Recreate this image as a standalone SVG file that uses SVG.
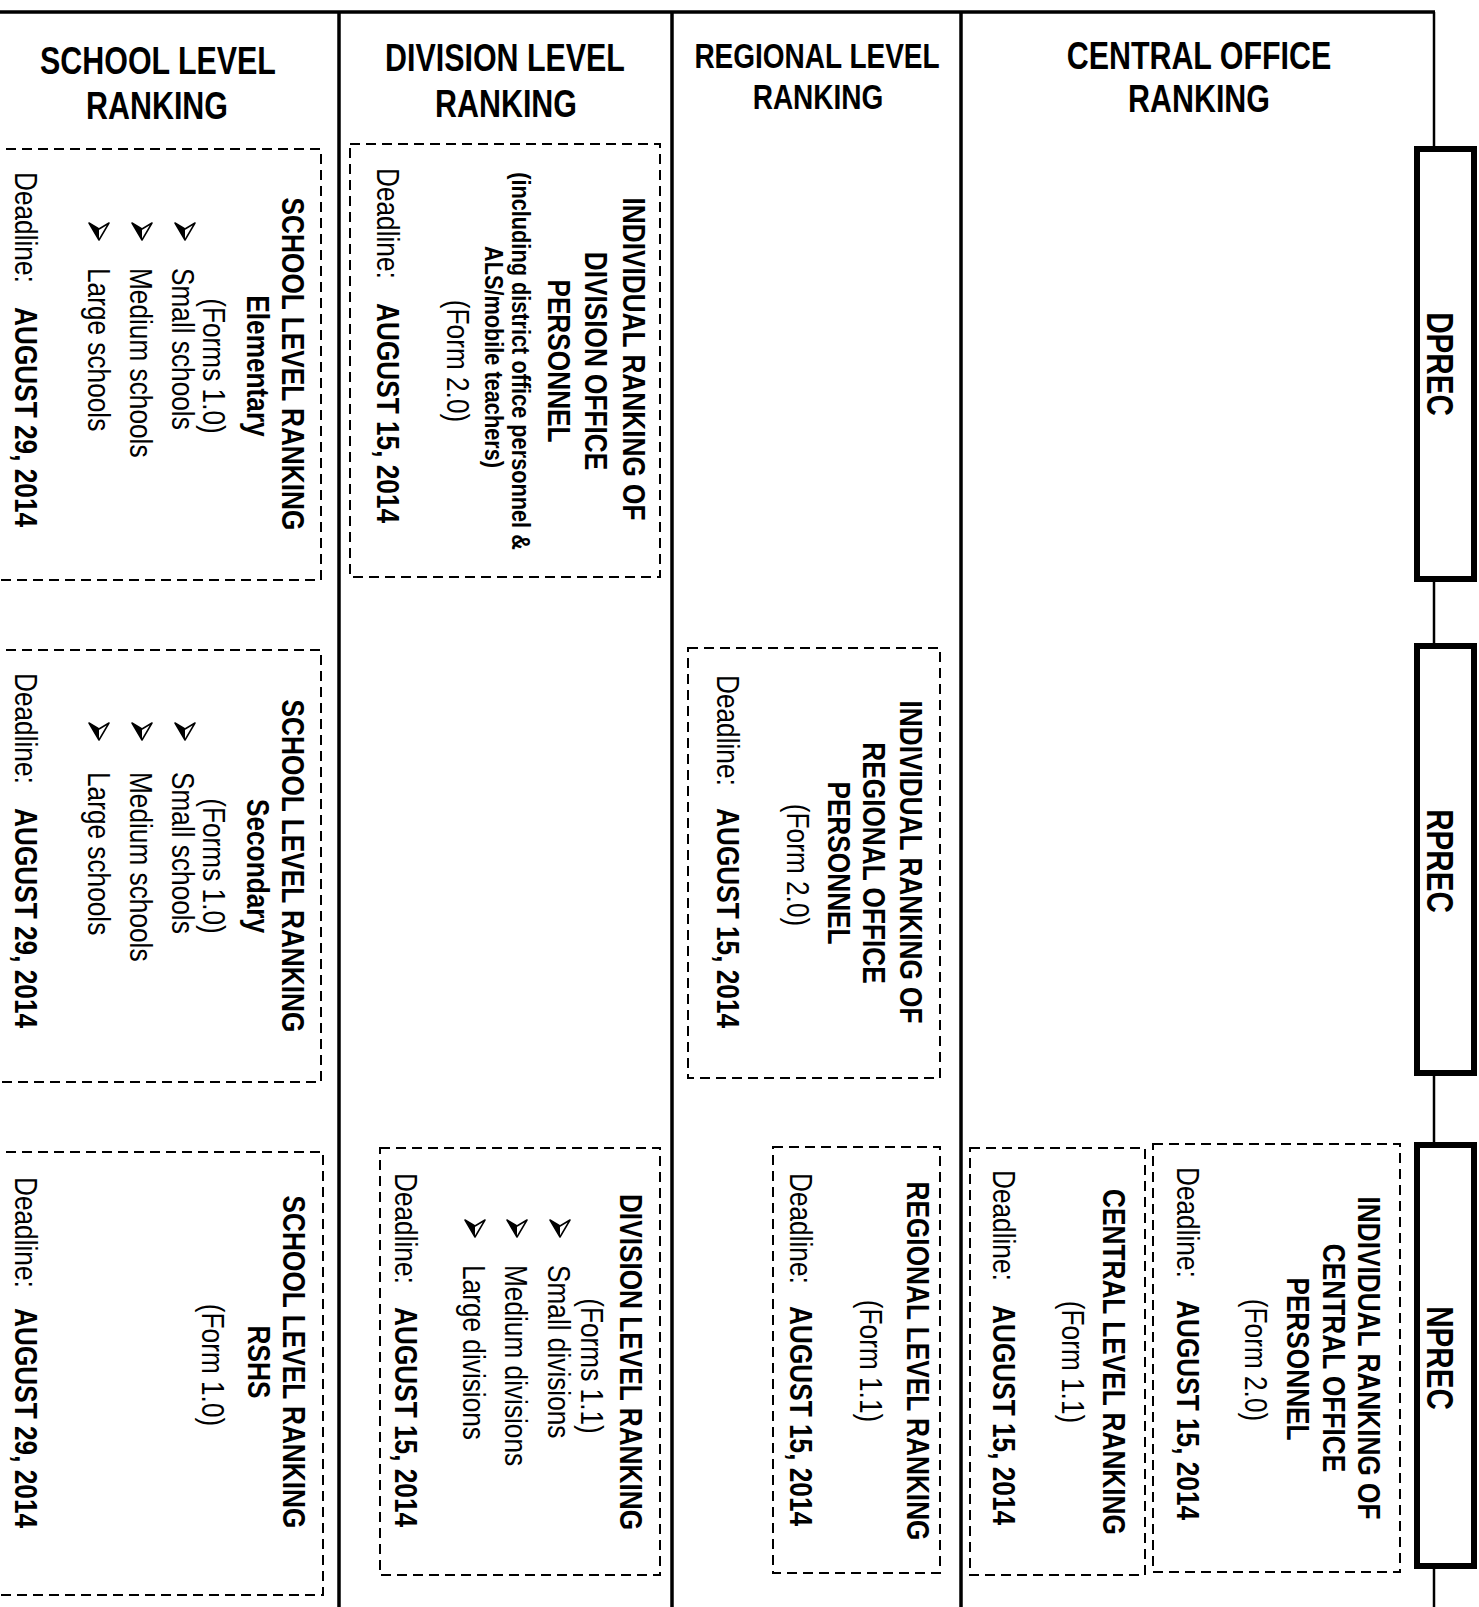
<svg xmlns="http://www.w3.org/2000/svg" xmlns:xlink="http://www.w3.org/1999/xlink" width="1479" height="1607" viewBox="0 0 1479 1607">
<style>
text{font-family:"Liberation Sans",Arial,sans-serif;fill:#000}
.h{font-size:38px;font-weight:bold;text-anchor:middle}
.b{font-size:32px;font-weight:bold}
.r{font-size:32px}
.s{font-size:26.5px;font-weight:bold}
.m{text-anchor:middle}
.p{font-size:37px;font-weight:bold;text-anchor:middle}
.dash{fill:none;stroke:#000;stroke-width:2;stroke-dasharray:10 6}
.lane{stroke:#000;stroke-width:3.5;fill:none}
.prec{fill:#fff;stroke:#000;stroke-width:6}
.conn{stroke:#000;stroke-width:2.5;fill:none}
</style>
<defs>
<g id="bul"><path d="M-10,-8 L0,9 L10,-8 L0,-2 Z" fill="#fff" stroke="#000" stroke-width="1.5" stroke-linejoin="round"/><path d="M-10,-8 L0,9 L0,-2 Z" fill="#000"/></g>
</defs>
<rect width="1479" height="1607" fill="#fff"/>

<g id="lanes">
<line class="lane" x1="0" y1="12" x2="1435" y2="12"/>
<line class="lane" x1="339" y1="12" x2="339" y2="1607"/>
<line class="lane" x1="672" y1="12" x2="672" y2="1607"/>
<line class="lane" x1="961" y1="12" x2="961" y2="1607"/>
<text class="h" transform="translate(158,74) scale(0.8,1)">SCHOOL LEVEL</text>
<text class="h" transform="translate(157,119) scale(0.8,1)">RANKING</text>
<text class="h" transform="translate(505,71) scale(0.8,1)">DIVISION LEVEL</text>
<text class="h" transform="translate(506,117) scale(0.8,1)">RANKING</text>
<text class="h" style="font-size:35px" transform="translate(817,68) scale(0.8,1)">REGIONAL LEVEL</text>
<text class="h" style="font-size:35px" transform="translate(818,109) scale(0.8,1)">RANKING</text>
<text class="h" transform="translate(1199,69) scale(0.8,1)">CENTRAL OFFICE</text>
<text class="h" transform="translate(1199,112) scale(0.8,1)">RANKING</text>
</g>

<g id="connectors">
<line class="conn" x1="1434" y1="12" x2="1434" y2="146"/>
<line class="conn" x1="1434" y1="582" x2="1434" y2="643"/>
<line class="conn" x1="1434" y1="1076" x2="1434" y2="1142"/>
<line class="conn" x1="1434" y1="1569" x2="1434" y2="1607"/>
</g>

<g id="dprec">
<rect class="prec" x="1417" y="149" width="57" height="430"/>
<text class="p" transform="translate(1427,364) rotate(90) scale(0.8,1)">DPREC</text>
</g>
<g id="rprec">
<rect class="prec" x="1417" y="646" width="57" height="427"/>
<text class="p" transform="translate(1427,861) rotate(90) scale(0.8,1)">RPREC</text>
</g>
<g id="nprec">
<rect class="prec" x="1417" y="1145" width="57" height="421"/>
<text class="p" transform="translate(1427,1358) rotate(90) scale(0.8,1)">NPREC</text>
</g>

<g id="school-elementary">
<rect class="dash" x="-10" y="149" width="331" height="431"/>
<text class="b m" transform="translate(282,364) rotate(90) scale(0.82,1)">SCHOOL LEVEL RANKING</text>
<text class="b m" transform="translate(247,366) rotate(90) scale(0.82,1)">Elementary</text>
<text class="r m" transform="translate(203,366) rotate(90) scale(0.82,1)">(Forms 1.0)</text>
<use xlink:href="#bul" href="#bul" x="185" y="231"/>
<use xlink:href="#bul" href="#bul" x="142" y="231"/>
<use xlink:href="#bul" href="#bul" x="99" y="231"/>
<text class="r" transform="translate(172,268) rotate(90) scale(0.82,1)">Small schools</text>
<text class="r" transform="translate(130,268) rotate(90) scale(0.82,1)">Medium schools</text>
<text class="r" transform="translate(88,268) rotate(90) scale(0.82,1)">Large schools</text>
<text class="r" transform="translate(15,172) rotate(90) scale(0.82,1)">Deadline:</text>
<text class="b" transform="translate(15,307) rotate(90) scale(0.82,1)">AUGUST 29, 2014</text>
</g>

<g id="school-secondary">
<rect class="dash" x="-10" y="650" width="331" height="432"/>
<text class="b m" transform="translate(282,866) rotate(90) scale(0.82,1)">SCHOOL LEVEL RANKING</text>
<text class="b m" transform="translate(247,866) rotate(90) scale(0.82,1)">Secondary</text>
<text class="r m" transform="translate(203,866) rotate(90) scale(0.82,1)">(Forms 1.0)</text>
<use xlink:href="#bul" href="#bul" x="185" y="731"/>
<use xlink:href="#bul" href="#bul" x="142" y="731"/>
<use xlink:href="#bul" href="#bul" x="99" y="731"/>
<text class="r" transform="translate(172,772) rotate(90) scale(0.82,1)">Small schools</text>
<text class="r" transform="translate(130,772) rotate(90) scale(0.82,1)">Medium schools</text>
<text class="r" transform="translate(88,772) rotate(90) scale(0.82,1)">Large schools</text>
<text class="r" transform="translate(15,673) rotate(90) scale(0.82,1)">Deadline:</text>
<text class="b" transform="translate(15,808) rotate(90) scale(0.82,1)">AUGUST 29, 2014</text>
</g>

<g id="school-rshs">
<rect class="dash" x="-10" y="1152" width="333" height="443"/>
<text class="b m" transform="translate(283,1362) rotate(90) scale(0.82,1)">SCHOOL LEVEL RANKING</text>
<text class="b m" transform="translate(248,1362) rotate(90) scale(0.82,1)">RSHS</text>
<text class="r m" transform="translate(202,1365) rotate(90) scale(0.82,1)">(Form 1.0)</text>
<text class="r" transform="translate(15,1177) rotate(90) scale(0.82,1)">Deadline:</text>
<text class="b" transform="translate(15,1308) rotate(90) scale(0.82,1)">AUGUST 29, 2014</text>
</g>

<g id="division-personnel">
<rect class="dash" x="350" y="144" width="310" height="433"/>
<text class="b m" transform="translate(623,359) rotate(90) scale(0.82,1)">INDIVIDUAL RANKING OF</text>
<text class="b m" transform="translate(585,361) rotate(90) scale(0.82,1)">DIVISION OFFICE</text>
<text class="b m" transform="translate(548,361) rotate(90) scale(0.82,1)">PERSONNEL</text>
<text class="s m" transform="translate(512,361) rotate(90) scale(0.82,1)">(including district office personnel &amp;</text>
<text class="s m" transform="translate(485,357) rotate(90) scale(0.82,1)">ALS/mobile teachers)</text>
<text class="r m" transform="translate(447,361) rotate(90) scale(0.82,1)">(Form 2.0)</text>
<text class="r" transform="translate(377,168) rotate(90) scale(0.82,1)">Deadline:</text>
<text class="b" transform="translate(377,303) rotate(90) scale(0.82,1)">AUGUST 15, 2014</text>
</g>

<g id="division-level">
<rect class="dash" x="380" y="1148" width="280" height="427"/>
<text class="b m" transform="translate(620,1362) rotate(90) scale(0.82,1)">DIVISION LEVEL RANKING</text>
<text class="r m" transform="translate(581,1366) rotate(90) scale(0.82,1)">(Forms 1.1)</text>
<use xlink:href="#bul" href="#bul" x="560" y="1228"/>
<use xlink:href="#bul" href="#bul" x="517" y="1228"/>
<use xlink:href="#bul" href="#bul" x="475" y="1228"/>
<text class="r" transform="translate(548,1265) rotate(90) scale(0.82,1)">Small divisions</text>
<text class="r" transform="translate(505,1265) rotate(90) scale(0.82,1)">Medium divisions</text>
<text class="r" transform="translate(463,1265) rotate(90) scale(0.82,1)">Large divisions</text>
<text class="r" transform="translate(395,1173) rotate(90) scale(0.82,1)">Deadline:</text>
<text class="b" transform="translate(395,1307) rotate(90) scale(0.82,1)">AUGUST 15, 2014</text>
</g>

<g id="regional-personnel">
<rect class="dash" x="688" y="648" width="252" height="430"/>
<text class="b m" transform="translate(900,862) rotate(90) scale(0.82,1)">INDIVIDUAL RANKING OF</text>
<text class="b m" transform="translate(863,863) rotate(90) scale(0.82,1)">REGIONAL OFFICE</text>
<text class="b m" transform="translate(828,863) rotate(90) scale(0.82,1)">PERSONNEL</text>
<text class="r m" transform="translate(787,865) rotate(90) scale(0.82,1)">(Form 2.0)</text>
<text class="r" transform="translate(717,675) rotate(90) scale(0.82,1)">Deadline:</text>
<text class="b" transform="translate(717,808) rotate(90) scale(0.82,1)">AUGUST 15, 2014</text>
</g>

<g id="regional-level">
<rect class="dash" x="773" y="1147" width="167" height="426"/>
<text class="b m" transform="translate(907,1361) rotate(90) scale(0.82,1)">REGIONAL LEVEL RANKING</text>
<text class="r m" transform="translate(860,1361) rotate(90) scale(0.82,1)">(Form 1.1)</text>
<text class="r" transform="translate(790,1173) rotate(90) scale(0.82,1)">Deadline:</text>
<text class="b" transform="translate(790,1306) rotate(90) scale(0.82,1)">AUGUST 15, 2014</text>
</g>

<g id="central-level">
<rect class="dash" x="970" y="1148" width="175" height="427"/>
<text class="b m" transform="translate(1103,1362) rotate(90) scale(0.82,1)">CENTRAL LEVEL RANKING</text>
<text class="r m" transform="translate(1062,1362) rotate(90) scale(0.82,1)">(Form 1.1)</text>
<text class="r" transform="translate(993,1170) rotate(90) scale(0.82,1)">Deadline:</text>
<text class="b" transform="translate(993,1305) rotate(90) scale(0.82,1)">AUGUST 15, 2014</text>
</g>

<g id="central-personnel">
<rect class="dash" x="1153" y="1144" width="247" height="428"/>
<text class="b m" transform="translate(1358,1358) rotate(90) scale(0.82,1)">INDIVIDUAL RANKING OF</text>
<text class="b m" transform="translate(1323,1358) rotate(90) scale(0.82,1)">CENTRAL OFFICE</text>
<text class="b m" transform="translate(1287,1359) rotate(90) scale(0.82,1)">PERSONNEL</text>
<text class="r m" transform="translate(1245,1360) rotate(90) scale(0.82,1)">(Form 2.0)</text>
<text class="r" transform="translate(1177,1167) rotate(90) scale(0.82,1)">Deadline:</text>
<text class="b" transform="translate(1177,1300) rotate(90) scale(0.82,1)">AUGUST 15, 2014</text>
</g>
</svg>
